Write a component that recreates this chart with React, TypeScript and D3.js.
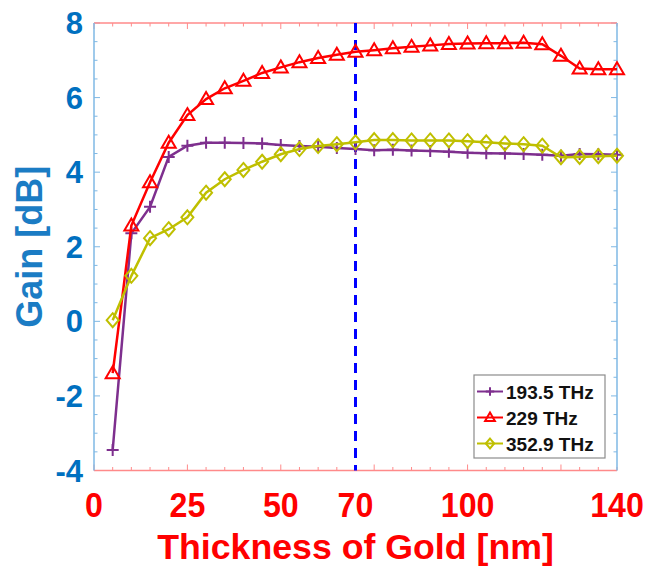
import React from 'react';
import * as d3 from 'd3';

const thickness = [5, 10, 15, 20, 25, 30, 35, 40, 45, 50, 55, 60, 65, 70, 75, 80, 85, 90, 95, 100, 105, 110, 115, 120, 125, 130, 135, 140];
const gain1935 = [-3.45, 2.36, 3.07, 4.41, 4.71, 4.79, 4.79, 4.78, 4.77, 4.73, 4.7, 4.68, 4.65, 4.62, 4.59, 4.6, 4.58, 4.57, 4.55, 4.52, 4.51, 4.5, 4.49, 4.47, 4.44, 4.49, 4.48, 4.47];
const gain229 = [-1.39, 2.57, 3.73, 4.79, 5.53, 5.96, 6.25, 6.45, 6.66, 6.81, 6.95, 7.06, 7.15, 7.23, 7.27, 7.32, 7.36, 7.4, 7.44, 7.45, 7.46, 7.46, 7.47, 7.43, 7.12, 6.78, 6.76, 6.76];
const gain3529 = [0.03, 1.22, 2.23, 2.47, 2.79, 3.45, 3.81, 4.06, 4.28, 4.48, 4.62, 4.7, 4.75, 4.8, 4.86, 4.86, 4.85, 4.85, 4.85, 4.83, 4.8, 4.77, 4.75, 4.71, 4.4, 4.41, 4.43, 4.44];
const seriesNames = ['193.5 THz', '229 THz', '352.9 THz'];
const xTickLabels = [0, 25, 50, 70, 100, 140];
const yTickLabels = [-4, -2, 0, 2, 4, 6, 8];
const markerLine = 70;

const W = 661;
const H = 568;
const m = { left: 94, right: 617, top: 23, bottom: 470.5 };

const x = d3.scaleLinear().domain([0, 140]).range([m.left, m.right]);
const y = d3.scaleLinear().domain([-4, 8]).range([m.bottom, m.top]);

const series = [
  { name: seriesNames[0], values: gain1935, color: '#7e2f8e', marker: 'plus' },
  { name: seriesNames[1], values: gain229, color: '#ff0000', marker: 'tri' },
  { name: seriesNames[2], values: gain3529, color: '#bfbf00', marker: 'diamond' },
];

const Marker = ({ type, cx, cy, color, r = 1 }: { type: string; cx: number; cy: number; color: string; r?: number }) => {
  if (type === 'plus') {
    return (
      <path d={`M${cx - 6 * r},${cy}H${cx + 6 * r}M${cx},${cy - 6 * r}V${cy + 6 * r}`} stroke={color} strokeWidth={2} fill="none" />
    );
  }
  if (type === 'tri') {
    return (
      <path d={`M${cx},${cy - 7 * r}L${cx + 7 * r},${cy + 5 * r}L${cx - 7 * r},${cy + 5 * r}Z`} stroke={color} strokeWidth={2} fill="none" />
    );
  }
  return (
    <path d={`M${cx},${cy - 7 * r}L${cx + 6 * r},${cy}L${cx},${cy + 7 * r}L${cx - 6 * r},${cy}Z`} stroke={color} strokeWidth={2} fill="none" />
  );
};

const App = () => {
  const line = d3
    .line<number>()
    .x((_, i) => x(thickness[i]))
    .y((d) => y(d));

  const xTicks = d3.range(0, 141, 5);
  const yTicks = d3.range(-4, 8.01, 0.5);
  const font = 'Arial, "Liberation Sans", sans-serif';

  return (
    <svg width={W} height={H} style={{ position: 'absolute', left: 0, top: 0 }} fontFamily={font}>
      <rect width={W} height={H} fill="#fff" />

      {/* ticks, inside the box */}
      {xTicks.map((t) => {
        const len = t % 25 === 0 ? 6 : 3.5;
        return (
          <g key={'xt' + t} stroke="#ff8a8a" strokeWidth={1}>
            <line x1={x(t)} x2={x(t)} y1={m.bottom} y2={m.bottom - len} />
            <line x1={x(t)} x2={x(t)} y1={m.top} y2={m.top + len} />
          </g>
        );
      })}
      {yTicks.map((t) => {
        const len = Math.abs(t % 2) < 1e-6 ? 6 : 3.5;
        return (
          <g key={'yt' + t} stroke="#7fb8e4" strokeWidth={1}>
            <line x1={m.left} x2={m.left + len} y1={y(t)} y2={y(t)} />
            <line x1={m.right} x2={m.right - len} y1={y(t)} y2={y(t)} />
          </g>
        );
      })}

      {/* box */}
      <line x1={m.left} x2={m.right} y1={m.top} y2={m.top} stroke="#ff8a8a" strokeWidth={1.5} />
      <line x1={m.left} x2={m.right} y1={m.bottom} y2={m.bottom} stroke="#ff8a8a" strokeWidth={1.5} />
      <line x1={m.left} x2={m.left} y1={m.top} y2={m.bottom} stroke="#7fb8e4" strokeWidth={1.5} />
      <line x1={m.right} x2={m.right} y1={m.top} y2={m.bottom} stroke="#7fb8e4" strokeWidth={1.5} />

      {/* vertical reference at 70 nm */}
      <line
        x1={x(markerLine)}
        x2={x(markerLine)}
        y1={m.top}
        y2={m.bottom}
        stroke="#0000ff"
        strokeWidth={3}
        strokeDasharray="10,7"
      />

      {series.map((s) => (
        <g key={s.name}>
          <path d={line(s.values) || ''} fill="none" stroke={s.color} strokeWidth={2.5} />
          {s.values.map((v, i) => (
            <Marker key={i} type={s.marker} cx={x(thickness[i])} cy={y(v)} color={s.color} />
          ))}
        </g>
      ))}

      {/* tick labels */}
      {xTickLabels.map((t) => (
        <text
          key={'xl' + t}
          transform={`translate(${x(t)},517) scale(0.92,1)`}
          textAnchor="middle"
          fontSize={35}
          fontWeight="bold"
          fill="#ff0000"
        >
          {t}
        </text>
      ))}
      {yTickLabels.map((t) => (
        <text
          key={'yl' + t}
          x={83}
          y={y(t) + 11}
          textAnchor="end"
          fontSize={31}
          fontWeight="bold"
          fill="#0070c0"
        >
          {t}
        </text>
      ))}

      {/* axis titles */}
      <text
        transform={`translate(${(m.left + m.right) / 2},559) scale(1.02,1)`}
        textAnchor="middle"
        fontSize={35}
        fontWeight="bold"
        fill="#ff0000"
      >
        Thickness of Gold [nm]
      </text>
      <text
        transform={`translate(42,${(m.top + m.bottom) / 2}) rotate(-90)`}
        textAnchor="middle"
        fontSize={36}
        fontWeight="bold"
        fill="#1b7cc4"
      >
        Gain [dB]
      </text>

      {/* legend */}
      <g>
        <rect x={474} y={375} width={131} height={83} fill="#fff" stroke="#8c8c8c" strokeWidth={1.2} />
        {series.map((s, i) => {
          const cy = 391.5 + i * 26;
          return (
            <g key={'lg' + s.name}>
              <line x1={477} x2={503} y1={cy} y2={cy} stroke={s.color} strokeWidth={2} />
              <Marker type={s.marker} cx={490} cy={cy} color={s.color} r={0.7} />
              <text x={506} y={cy + 7} fontSize={19} fontWeight="bold" fill="#111">
                {s.name}
              </text>
            </g>
          );
        })}
      </g>
    </svg>
  );
};

export default App;
